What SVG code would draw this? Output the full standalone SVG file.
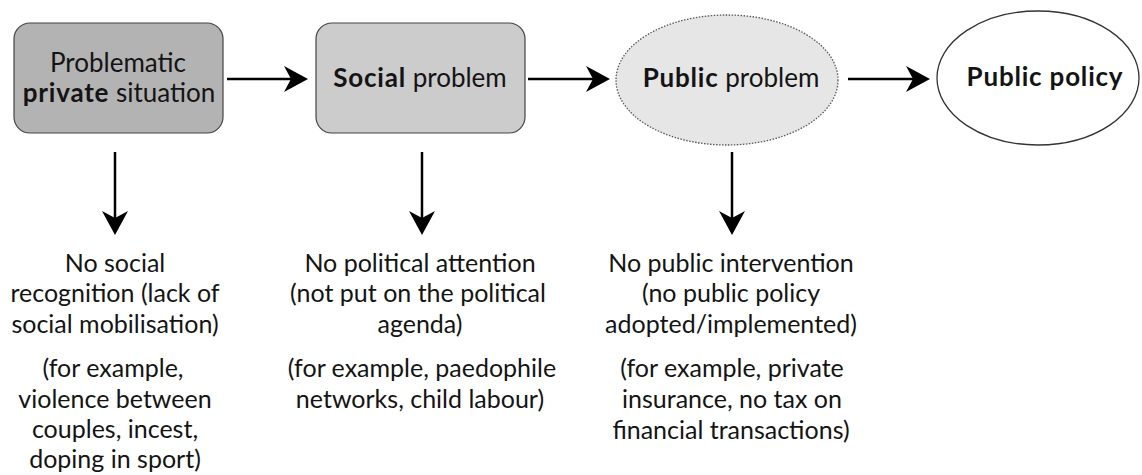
<svg xmlns="http://www.w3.org/2000/svg" width="1142" height="475" viewBox="0 0 1142 475">
  <defs>
    <marker id="head" markerUnits="userSpaceOnUse" markerWidth="24" markerHeight="26" viewBox="0 0 24 26" refX="14" refY="13" orient="auto">
      <path d="M0,0 L24,13 L0,26 L7,13 Z" fill="#000"/>
    </marker>
    <style>
      text { font-family: Lato, "Open Sans", "Liberation Sans", sans-serif; fill: #141414; }
      .lbl { font-size: 26px; text-anchor: middle; }
      .note { font-size: 25px; text-anchor: middle; }
      .b { font-weight: bold; letter-spacing: 0.8px; }
      .edge { stroke: #000; stroke-width: 2.5; fill: none; marker-end: url(#head); }
    </style>
  </defs>
  <rect width="1142" height="475" fill="#fff"/>

  <!-- flow nodes -->
  <g id="private-situation">
    <rect x="14" y="23" width="209" height="110" rx="16" fill="#b3b3b3" stroke="#444" stroke-width="1.2"/>
    <text class="lbl" x="118" y="72">Problematic</text>
    <text class="lbl" x="119" y="102"><tspan class="b">private</tspan> situation</text>
  </g>
  <g id="social-problem">
    <rect x="316" y="23" width="209" height="110" rx="16" fill="#cccccc" stroke="#444" stroke-width="1.2"/>
    <text class="lbl" x="420" y="87"><tspan class="b">Social</tspan> problem</text>
  </g>
  <g id="public-problem">
    <ellipse cx="727" cy="80" rx="111" ry="65" fill="#e6e6e6" stroke="#555" stroke-width="1.3" stroke-dasharray="1.5 1.5"/>
    <text class="lbl" x="731" y="87"><tspan class="b">Public</tspan> problem</text>
  </g>
  <g id="public-policy">
    <ellipse cx="1038" cy="78" rx="101" ry="67" fill="#fff" stroke="#333" stroke-width="1.3"/>
    <text class="lbl b" x="1045" y="86">Public policy</text>
  </g>

  <!-- outcome notes -->
  <g id="note-private">
    <text class="note" x="115" y="272">No social</text>
    <text class="note" x="115" y="302">recognition (lack of</text>
    <text class="note" x="115" y="333">social mobilisation)</text>
    <text class="note" x="113" y="377">(for example,</text>
    <text class="note" x="115" y="408">violence between</text>
    <text class="note" x="115" y="438">couples, incest,</text>
    <text class="note" x="115" y="468">doping in sport)</text>
  </g>
  <g id="note-social">
    <text class="note" x="420" y="272">No political attention</text>
    <text class="note" x="418" y="302">(not put on the political</text>
    <text class="note" x="420" y="333">agenda)</text>
    <text class="note" x="422" y="377">(for example, paedophile</text>
    <text class="note" x="420" y="408">networks, child labour)</text>
  </g>
  <g id="note-public">
    <text class="note" x="731" y="272">No public intervention</text>
    <text class="note" x="731" y="302">(no public policy</text>
    <text class="note" x="731" y="333">adopted/implemented)</text>
    <text class="note" x="732" y="377">(for example, private</text>
    <text class="note" x="732" y="408">insurance, no tax on</text>
    <text class="note" x="731" y="439">financial transactions)</text>
  </g>

  <!-- connectors -->
  <g id="connectors">
    <line class="edge" x1="227" y1="79" x2="298" y2="79"/>
    <line class="edge" x1="528" y1="79" x2="600" y2="79"/>
    <line class="edge" x1="848" y1="79" x2="920" y2="79"/>
    <line class="edge" x1="115" y1="152" x2="115" y2="225"/>
    <line class="edge" x1="422" y1="152" x2="422" y2="225"/>
    <line class="edge" x1="732" y1="152" x2="732" y2="225"/>
  </g>
</svg>
